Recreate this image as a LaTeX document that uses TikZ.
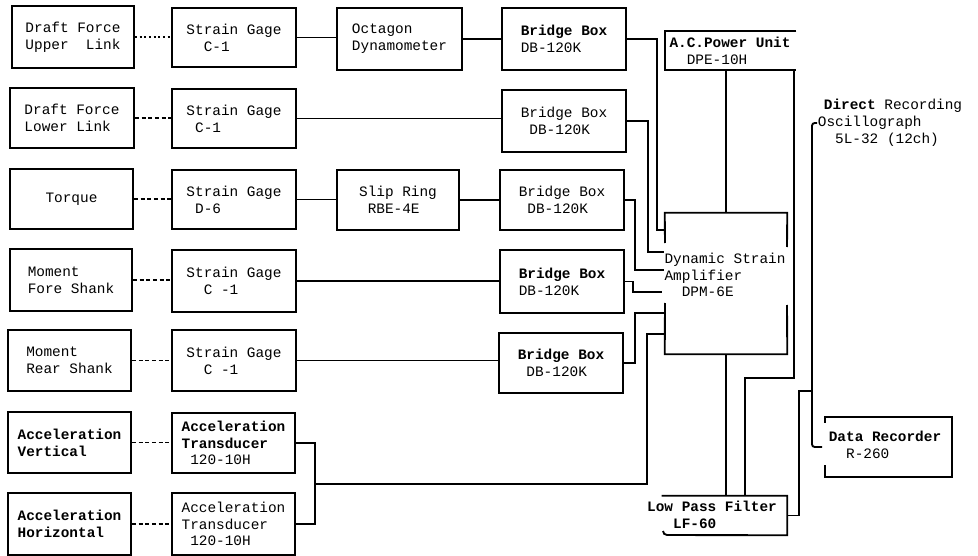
\documentclass[tikz,border=0pt]{standalone}
\usepackage{fontspec}
\setmonofont{Liberation Mono}
\newcommand\mybox[6]{\node[box,minimum width={(#4-#2)*0.75pt},minimum height={(#5-#3)*0.75pt}] (#1) at ({(#2+#4)/2},{(#3+#5)/2}) {#6};}
\newcommand\myhole[5]{\node[hole,minimum width={(#4-#2)*0.75pt},minimum height={(#5-#3)*0.75pt}] (#1) at ({(#2+#4)/2},{(#3+#5)/2}) {};}
\begin{document}
\begin{tikzpicture}[x=0.75pt,y=-0.75pt,
  txt/.style={font=\ttfamily\fontsize{10.8}{12.6}\selectfont,align=left,inner sep=0pt},
  box/.style={txt,draw,line width=1.4pt},
  hole/.style={draw=none,inner sep=0pt},
  wire/.style={line width=1.4pt},
  dwire/.style={line width=1.3pt,dash pattern=on 3pt off 2pt},
  dotwire/.style={line width=1.3pt,dash pattern=on 1.5pt off 2pt}]
\useasboundingbox (0,0) rectangle (978,556);
% column 1
\mybox{s1}{12}{6}{134}{68}{Draft Force\\Upper~~Link}
\mybox{s2}{10}{88}{134}{148}{Draft Force\\Lower Link}
\mybox{s3}{10}{169}{133}{229}{Torque}
\mybox{s4}{10}{249}{132}{311}{Moment\\Fore Shank}
\mybox{s5}{8}{330}{131}{391}{Moment\\Rear Shank}
\mybox{s6}{8}{412}{131}{473}{\bfseries Acceleration\\\bfseries Vertical}
\mybox{s7}{8}{493}{131}{555}{\bfseries Acceleration\\\bfseries Horizontal}
% column 2
\mybox{g1}{172}{8}{296}{67}{Strain Gage\\~~C-1}
\mybox{g2}{172}{89}{296}{148}{Strain Gage\\~C-1}
\mybox{g3}{172}{170}{296}{229}{Strain Gage\\~D-6}
\mybox{g4}{172}{250}{296}{312}{Strain Gage\\~~C -1}
\mybox{g5}{172}{330}{296}{391}{Strain Gage\\~~C -1}
\mybox{g6}{172}{413}{295}{473}{\bfseries Acceleration\\\bfseries Transducer\\~120-10H}
\mybox{g7}{172}{493}{295}{555}{Acceleration\\Transducer\\~120-10H}
% column 3
\mybox{oct}{337}{8}{462}{70}{Octagon\\Dynamometer}
\mybox{slip}{337}{170}{459}{230}{Slip Ring\\~RBE-4E}
% bridge boxes
\mybox{b1}{502}{8}{626}{70}{\bfseries Bridge Box\\DB-120K}
\mybox{b2}{502}{90}{626}{152}{Bridge Box\\~DB-120K}
\mybox{b3}{500}{170}{624}{230}{Bridge Box\\~DB-120K}
\mybox{b4}{500}{250}{624}{313}{\bfseries Bridge Box\\DB-120K}
\mybox{b5}{499}{333}{623}{393}{\bfseries Bridge Box\\~DB-120K}
% right side units
\myhole{acp}{665}{31}{796}{70}
\node[txt] (acpt) at (730,51) {\bfseries A.C.Power Unit\\~~DPE-10H};
\myhole{amp}{665}{213}{787}{354}
\node[txt] (ampt) at (725,275) {Dynamic Strain\\Amplifier\\~~DPM-6E};
\myhole{lpf}{662}{496}{787}{535}
\node[txt] (lpft) at (712,515) {\bfseries Low Pass Filter\\~~~\bfseries LF-60};
\myhole{dr}{825}{417}{952}{477}
\node[txt] (drt) at (885,445) {\bfseries Data Recorder\\~~R-260};
\node[txt] (osc) at (890,123) {\hspace*{4.5pt}\textbf{Direct} Recording\\Oscillograph\\~~5L-32 (12ch)};
% outlines with gaps
\draw[wire] (acp.north east) -- (acp.north west) -- (acp.south west) -- (acp.south east);
\draw[wire] (665,243) -- (amp.north west) -- (amp.north east) -- (787,247);
\draw[wire] (665,303) -- (amp.south west) -- (amp.south east) -- (787,305);
\draw[wire] (lpf.north west) -- (lpf.north east) -- (lpf.south east) -- (667,535) to[out=180,in=-90] (663,531);
\draw[wire] ([yshift=-4.5pt]dr.north west) -- (dr.north west) -- (dr.north east) -- (dr.south east) -- (dr.south west) -- ([yshift=9pt]dr.south west);
% sensor to gage
\draw[dotwire] (s1.east) -- (s1.east -| g1.west);
\draw[dwire] (s2.east) -- (s2.east -| g2.west);
\draw[dwire] (s3.east) -- (s3.east -| g3.west);
\draw[dwire] (s4.east) -- (s4.east -| g4.west);
\draw[dwire] (s5.east) -- (s5.east -| g5.west);
\draw[dwire] (s6.east) -- (s6.east -| g6.west);
\draw[dwire] (s7.east) -- (s7.east -| g7.west);
% gage to bridge
\draw[wire] (g1.east) -- (g1.east -| oct.west);
\draw[wire] (oct.east) -- (oct.east -| b1.west);
\draw[wire] (g2.east) -- (g2.east -| b2.west);
\draw[wire] (g3.east) -- (g3.east -| slip.west);
\draw[wire] (slip.east) -- (slip.east -| b3.west);
\draw[wire] (g4.east) -- (g4.east -| b4.west);
\draw[wire] (g5.east) -- (g5.east -| b5.west);
% bridge to amplifier
\coordinate (k1) at (657,230);
\coordinate (k2) at (648,252);
\coordinate (k3) at (635,270);
\coordinate (k4) at (633,292);
\coordinate (k5) at (635,313);
\coordinate (k6) at (315,484);
\coordinate (k7) at (647,334);
\draw[wire] (b1.east) -| (k1) -- (k1 -| amp.west);
\draw[wire] (b2.east) -| (k2) -- (k2 -| ampt.west);
\draw[wire] (b3.east) -| (k3) -- (k3 -| ampt.west);
\draw[wire] (b4.east) -| (k4) -- ([xshift=-2pt]k4 -| ampt.west);
\draw[wire] (b5.east) -| (k5) -- (k5 -| amp.west);
\draw[wire] (g6.east) -| (k6) |- (g7.east);
\draw[wire] (k6) -| (k7) -- (k7 -| amp.west);
% power, filter, recorders
\draw[wire] (acp.south -| amp.north) -- (amp.north);
\draw[wire] (amp.south) -- (amp.south |- lpf.north);
\coordinate (k8) at (794,378);
\coordinate (k9) at (745,378);
\draw[wire] (k8 |- acp.south) -- (k8) -- (k9) -- (k9 |- lpf.north);
\coordinate (k10) at (799,391);
\coordinate (k11) at (812,391);
\draw[wire] (lpf.east) -| (k10) -- (k11);
\coordinate (o1) at (817,123);
\coordinate (o2) at (812,447);
\coordinate (o3) at (822,447);
\draw[wire,rounded corners=2pt] (o1) -| (o2) -- (o3);
\end{tikzpicture}
\end{document}
